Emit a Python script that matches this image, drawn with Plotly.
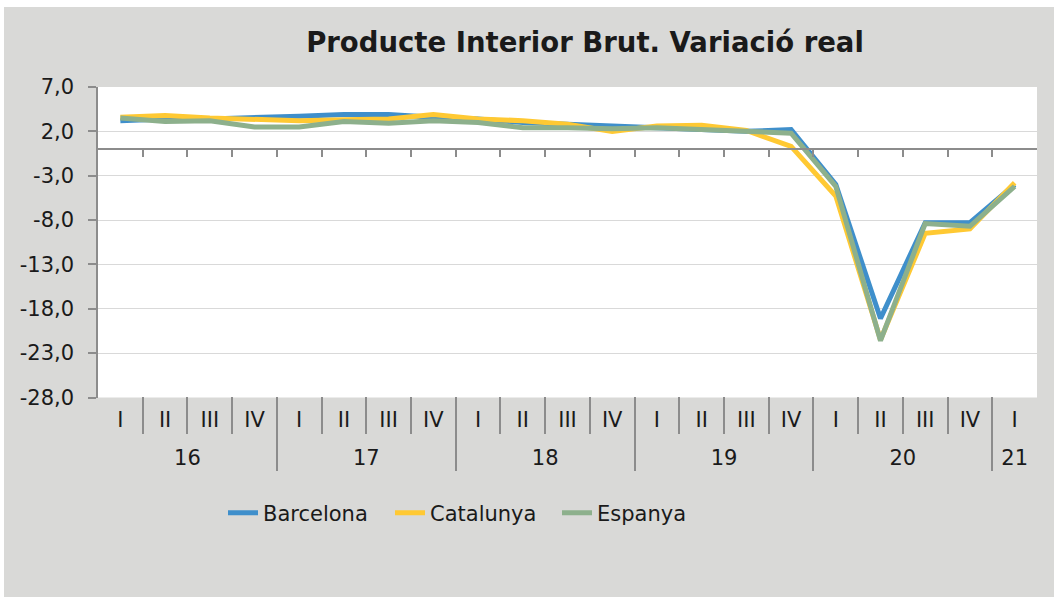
import plotly.graph_objects as go

# ---------------- data ----------------
years = ["16", "17", "18", "19", "20", "21"]
point_year = ["16"] * 4 + ["17"] * 4 + ["18"] * 4 + ["19"] * 4 + ["20"] * 4 + ["21"]
quarters = ["I", "II", "III", "IV"] * 5 + ["I"]

barcelona = [3.2, 3.4, 3.4, 3.5, 3.7, 3.9, 3.9, 3.6, 3.4, 3.0, 2.8, 2.6,
             2.5, 2.3, 2.0, 2.2, -4.0, -19.1, -8.3, -8.3, -4.0]
catalunya = [3.6, 3.8, 3.5, 3.3, 3.2, 3.3, 3.4, 3.9, 3.4, 3.2, 2.8, 2.0,
             2.6, 2.7, 2.1, 0.3, -5.3, -21.5, -9.5, -9.0, -3.8]
espanya = [3.5, 3.1, 3.2, 2.5, 2.5, 3.1, 2.9, 3.2, 3.0, 2.4, 2.4, 2.3,
           2.4, 2.2, 1.9, 1.8, -4.2, -21.6, -8.4, -8.7, -4.2]

series_names = ["Barcelona", "Catalunya", "Espanya"]
series_colors = ["#3f8fcb", "#ffc933", "#8db08c"]

y_ticks = [7, 2, -3, -8, -13, -18, -23, -28]
y_ticktext = [f"{v:.1f}".replace(".", ",") for v in y_ticks]

title_text = "Producte Interior Brut. Variació real"

# ---------------- layout geometry ----------------
W, H = 1054, 597
L, R, T, B = 98, 17, 87, 40
PW, PH = W - L - R, H - T - B


def py(p):
    return (H - B - p) / PH


def px(p):
    return (p - L) / PW


YMIN, YMAX = -28, 7
ydom0 = py(397.5)
zero_pos = ydom0 + (0 - YMIN) / (YMAX - YMIN) * (1 - ydom0)

cats = [f"{y}-{q}" for y, q in zip(point_year, quarters)]
n = len(cats)
q_bounds = [i + 0.5 for i in range(n - 1)]
y_bounds = [-0.5] + [i - 0.5 for i in range(1, n) if point_year[i] != point_year[i - 1]] + [n - 0.5]
y_centers = [sum(i for i in range(n) if point_year[i] == y) / point_year.count(y) for y in years]

FONT = "DejaVu Sans"
GRAY = "#8c8c8c"
TXT = "#1a1a1a"

fig = go.Figure()
for name, vals, col in zip(series_names, [barcelona, catalunya, espanya], series_colors):
    fig.add_trace(go.Scatter(x=cats, y=vals, name=name, mode="lines",
                             line=dict(color=col, width=5), xaxis="x", yaxis="y"))

# empty helper traces so that the overlay axes are rendered
for ax in ["x2", "x3", "x4", "x5"]:
    fig.add_trace(go.Scatter(x=[None], y=[None], xaxis=ax, yaxis="y", mode="lines",
                             showlegend=False, hoverinfo="skip"))

xr = [-0.5, n - 0.5]
fig.update_layout(
    width=W, height=H,
    margin=dict(l=L, r=R, t=T, b=B, autoexpand=False),
    paper_bgcolor="white",
    plot_bgcolor="rgba(0,0,0,0)",
    font=dict(family=FONT, color=TXT, size=21),
    showlegend=True,
    title=dict(text="<b>" + title_text + "</b>", x=px(585), xref="paper", xanchor="center",
               y=1 - 42 / H, yref="container", yanchor="middle",
               font=dict(family=FONT, size=27.5, color=TXT)),
    legend=dict(orientation="h", x=px(223), xanchor="left", y=py(513), yanchor="middle",
                font=dict(family=FONT, size=21, color=TXT), bgcolor="rgba(0,0,0,0)",
                entrywidth=122, traceorder="normal"),
    yaxis=dict(domain=[ydom0, 1], range=[YMIN, YMAX], tickmode="array",
               tickvals=y_ticks, ticktext=y_ticktext,
               showgrid=True, gridcolor="#d9d9d9", gridwidth=1.2, zeroline=False,
               showline=True, linecolor=GRAY, linewidth=1.5, ticks="outside", ticklen=8,
               tickcolor=GRAY, tickwidth=1.5, ticklabelstandoff=10,
               tickfont=dict(family=FONT, size=21, color=TXT)),
    xaxis=dict(type="category", categoryorder="array", categoryarray=cats, range=xr,
               anchor="y", showgrid=False, zeroline=False, showline=False, ticks="",
               tickmode="array", tickvals=cats, ticktext=quarters, ticklabelstandoff=7,
               tickfont=dict(family=FONT, size=21, color=TXT)),
    # zero line with small ticks
    xaxis2=dict(overlaying="x", anchor="free", position=zero_pos, range=xr, type="linear",
                showgrid=False, zeroline=False, showline=True, linecolor=GRAY, linewidth=1.5,
                ticks="outside", ticklen=7, tickcolor=GRAY, tickwidth=1.5,
                tickmode="array", tickvals=q_bounds, showticklabels=False),
    # quarter separators
    xaxis3=dict(overlaying="x", anchor="free", position=py(434), range=xr, type="linear",
                showgrid=False, zeroline=False, showline=False,
                ticks="inside", ticklen=37, tickcolor=GRAY, tickwidth=1.5,
                tickmode="array", tickvals=q_bounds, showticklabels=False),
    # year separators
    xaxis4=dict(overlaying="x", anchor="free", position=py(471), range=xr, type="linear",
                showgrid=False, zeroline=False, showline=False,
                ticks="inside", ticklen=74, tickcolor=GRAY, tickwidth=1.5,
                tickmode="array", tickvals=y_bounds, showticklabels=False),
    # year labels
    xaxis5=dict(overlaying="x", anchor="free", position=py(434), range=xr, type="linear",
                showgrid=False, zeroline=False, showline=False, ticks="",
                tickmode="array", tickvals=y_centers, ticktext=years, ticklabelstandoff=9,
                tickfont=dict(family=FONT, size=21, color=TXT)),
    shapes=[
        dict(type="rect", xref="paper", yref="paper", x0=px(4), x1=px(W + 10),
             y0=py(H + 10), y1=py(7), fillcolor="#d9d9d7", line=dict(width=0), layer="below"),
        dict(type="rect", xref="x domain", yref="y domain", x0=0, x1=1, y0=0, y1=1,
             fillcolor="white", line=dict(width=0), layer="below"),
    ],
)

fig.write_html("out.html", config={"displayModeBar": False},
               post_script="document.body.style.margin='0';")
